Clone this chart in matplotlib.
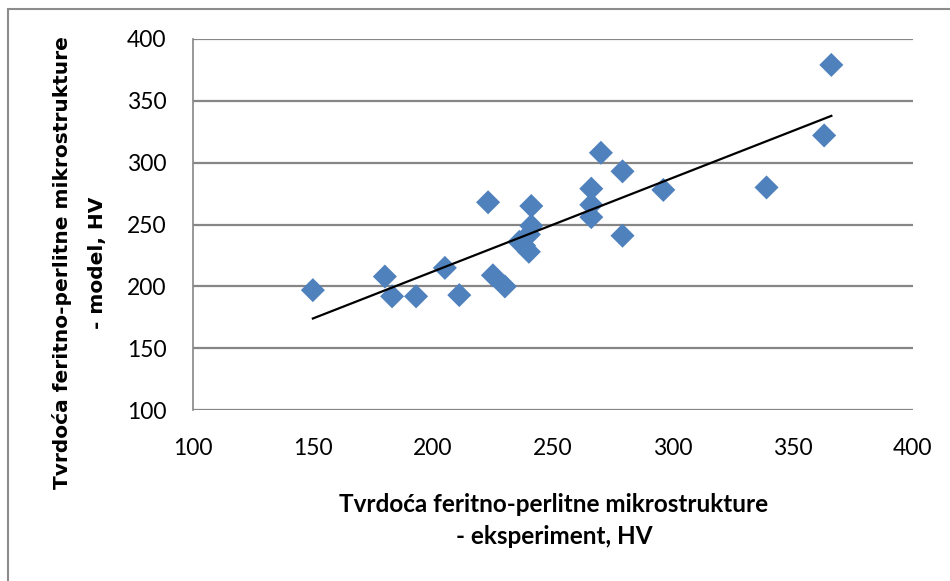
import numpy as np
import matplotlib.pyplot as plt
from matplotlib.patches import Rectangle

# experimental vs model hardness, HV
hv_exp = [150, 180, 183, 193, 205, 211, 223, 225, 230, 236, 238, 240, 240,
          241, 241, 266, 266, 266, 270, 279, 279, 296, 339, 363, 366]
hv_model = [197, 208, 192, 192, 215, 193, 268, 209, 200, 236, 233, 228, 242,
            249, 265, 279, 266, 256, 308, 293, 241, 278, 280, 322, 379]

xticks = [100, 150, 200, 250, 300, 350, 400]
yticks = [100, 150, 200, 250, 300, 350, 400]

fig = plt.figure(figsize=(9.5, 5.81), dpi=100)
ax = fig.add_axes([0.203, 0.294, 0.758, 0.639])

# outer chart border
fig.add_artist(Rectangle((8 / 950, -0.05), 1.1, 1.05 - 9 / 581, transform=fig.transFigure,
                         fill=False, edgecolor='#8c8c8c', lw=1.5))

ax.scatter(hv_exp, hv_model, marker='D', s=150, color='#4F81BD', zorder=3,
           edgecolors='none')

# linear trend line
k, b = np.polyfit(hv_exp, hv_model, 1)
xl = np.array([min(hv_exp), max(hv_exp)])
ax.plot(xl, k * xl + b, color='black', lw=1.6, zorder=4)

ax.set_xlim(100, 400)
ax.set_ylim(100, 400)
ax.set_xticks(xticks)
ax.set_yticks(yticks)
ax.yaxis.grid(True, color='#868686', lw=1.6)
ax.set_axisbelow(True)
for s in ['top', 'right', 'bottom']:
    ax.spines[s].set_visible(False)
ax.spines['left'].set_color('#868686')
ax.spines['left'].set_linewidth(1.2)
ax.tick_params(length=0)
ax.tick_params(axis='y', pad=19)
ax.tick_params(axis='x', pad=20)
for lab in ax.get_xticklabels() + ax.get_yticklabels():
    lab.set_fontfamily('Lato')
    lab.set_fontsize(16.5)

fig.text(554 / 950, 1 - 505 / 581, 'Tvrdoća feritno-perlitne mikrostrukture',
         family='Lato', fontsize=17.5, fontweight='bold', ha='center', va='center')
fig.text(554 / 950, 1 - 537 / 581, '- eksperiment, HV',
         family='Lato', fontsize=17.5, fontweight='bold', ha='center', va='center')
fig.text(62 / 950, 1 - 263 / 581, 'Tvrdoća feritno-perlitne mikrostrukture',
         family='DejaVu Sans', fontsize=14.5, fontweight='bold', rotation=90,
         ha='center', va='center')
fig.text(97 / 950, 1 - 263 / 581, '- model, HV',
         family='DejaVu Sans', fontsize=14.5, fontweight='bold', rotation=90,
         ha='center', va='center')

fig.savefig('out.png', dpi=100)
